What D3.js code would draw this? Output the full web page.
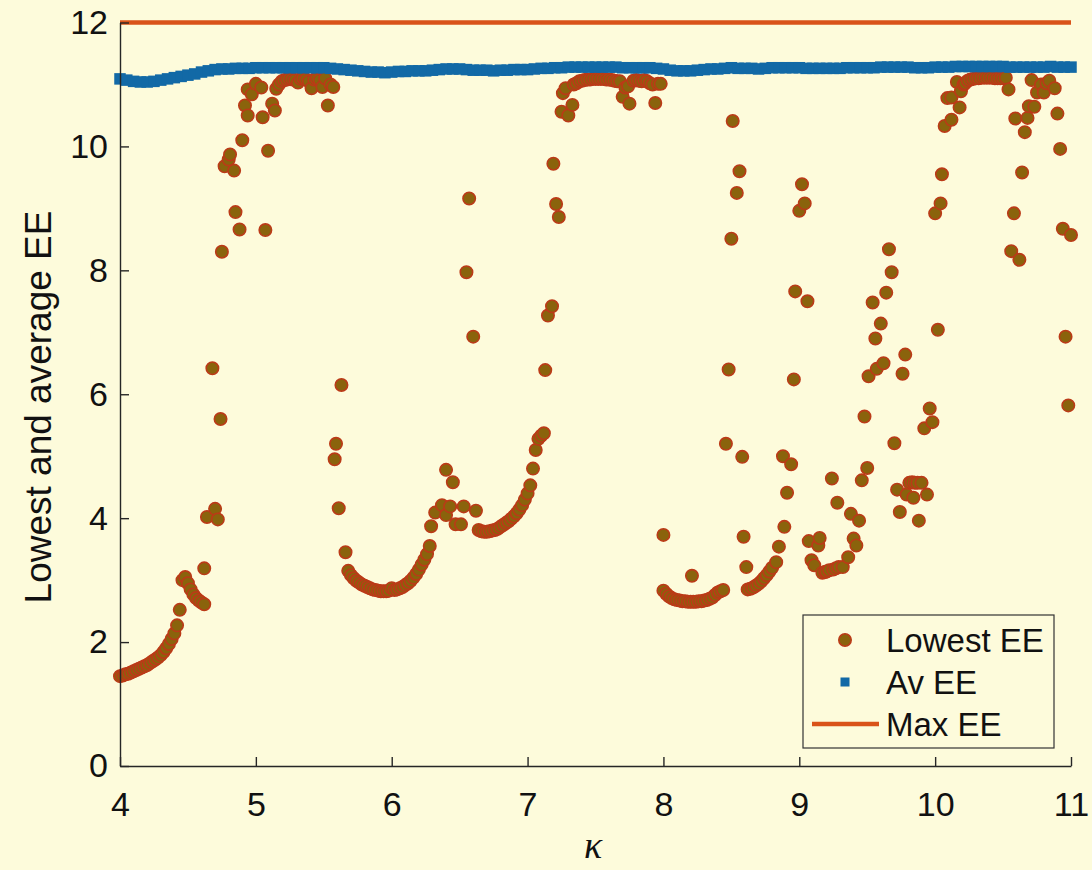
<!DOCTYPE html>
<html>
<head>
<meta charset="utf-8">
<script src="https://cdn.jsdelivr.net/npm/d3@7"></script>
<style>
  html, body { margin: 0; padding: 0; background: #fdfbdb; }
  svg { display: block; }
  text { font-family: "Liberation Sans", Arial, Helvetica, sans-serif; fill: #111; }
</style>
</head>
<body>
<svg id="chart" width="1092" height="870"></svg>
<script>
// ---- data ----
const xTicks = [4, 5, 6, 7, 8, 9, 10, 11];
const yTicks = [0, 2, 4, 6, 8, 10, 12];
const maxEE = 12;

// lowest EE, [kappa, value]
const lowestEE = [
  [4.00,1.45],[4.02,1.46],[4.04,1.48],[4.06,1.49],[4.08,1.51],[4.10,1.53],[4.12,1.55],[4.14,1.57],
  [4.16,1.59],[4.18,1.61],[4.20,1.63],[4.22,1.66],[4.24,1.69],[4.26,1.72],[4.28,1.75],[4.30,1.79],
  [4.32,1.84],[4.34,1.90],[4.36,1.97],[4.38,2.05],[4.40,2.14],[4.42,2.27],[4.44,2.52],[4.46,3.00],
  [4.48,3.05],[4.50,2.95],[4.52,2.85],[4.54,2.77],[4.56,2.71],[4.58,2.67],[4.60,2.64],[4.62,2.61],
  [4.62,3.19],[4.64,4.02],[4.68,6.42],[4.70,4.15],[4.72,3.98],[4.74,5.60],[4.75,8.30],[4.77,9.68],
  [4.80,9.79],[4.81,9.87],[4.84,9.61],[4.85,8.94],[4.88,8.66],[4.90,10.10],[4.92,10.66],[4.94,10.50],
  [4.94,10.92],[4.97,10.84],[5.00,11.01],[5.04,10.95],[5.05,10.47],[5.07,8.65],[5.09,9.93],[5.12,10.69],
  [5.14,10.58],[5.15,10.93],[5.17,11.00],[5.19,11.05],[5.21,11.07],[5.23,11.08],[5.25,11.09],[5.27,11.08],
  [5.29,11.07],[5.31,11.03],[5.33,11.09],[5.35,11.10],[5.37,11.08],[5.39,11.05],[5.41,10.94],[5.43,11.08],
  [5.45,11.09],[5.47,11.07],[5.49,10.96],[5.51,11.10],[5.53,10.66],[5.55,11.00],[5.57,10.96],
  [5.58,4.95],[5.59,5.20],[5.61,4.16],[5.63,6.15],[5.66,3.45],[5.68,3.15],[5.70,3.08],[5.72,3.03],
  [5.74,2.99],[5.76,2.96],[5.78,2.93],[5.80,2.91],[5.82,2.89],[5.84,2.87],[5.86,2.85],[5.88,2.84],
  [5.90,2.83],[5.92,2.82],[5.94,2.82],[5.96,2.82],[5.98,2.83],[6.00,2.87],[6.02,2.84],[6.04,2.85],
  [6.06,2.87],[6.08,2.89],[6.10,2.92],[6.12,2.95],[6.14,2.99],[6.16,3.04],[6.18,3.10],[6.20,3.17],
  [6.22,3.25],[6.24,3.33],[6.26,3.42],[6.28,3.55],[6.29,3.87],[6.32,4.09],[6.37,4.21],[6.40,4.78],
  [6.40,4.05],[6.43,4.19],[6.45,4.58],[6.47,3.90],[6.51,3.90],[6.53,4.19],[6.55,7.97],[6.57,9.16],
  [6.60,6.93],[6.62,4.12],[6.64,3.81],
  [6.66,3.79],[6.68,3.78],[6.70,3.78],[6.72,3.79],[6.74,3.80],[6.76,3.81],[6.78,3.83],[6.80,3.86],
  [6.82,3.89],[6.84,3.92],[6.86,3.95],[6.88,3.99],[6.90,4.03],[6.92,4.08],[6.94,4.14],[6.96,4.21],
  [6.98,4.30],[7.00,4.40],[7.02,4.53],[7.04,4.80],[7.06,5.10],[7.08,5.28],[7.10,5.33],[7.12,5.37],
  [7.13,6.39],[7.15,7.27],[7.18,7.42],[7.19,9.72],[7.21,9.07],[7.23,8.86],
  [7.25,10.56],[7.26,10.86],[7.28,10.94],[7.30,10.50],[7.33,10.67],[7.34,11.00],[7.36,11.02],[7.38,11.05],
  [7.40,11.06],[7.42,11.07],[7.44,11.08],[7.46,11.08],[7.48,11.09],[7.50,11.09],[7.52,11.09],[7.54,11.09],
  [7.56,11.09],[7.58,11.08],[7.60,11.08],[7.62,11.07],[7.64,11.06],[7.66,11.05],[7.68,11.05],[7.70,10.80],
  [7.72,10.95],[7.74,10.97],[7.75,10.69],[7.78,11.06],[7.80,11.07],[7.82,11.06],[7.84,11.05],[7.86,11.07],
  [7.88,11.05],[7.90,11.02],[7.92,11.00],[7.94,10.70],[7.96,11.01],[7.98,11.01],
  [8.00,3.73],[8.00,2.83],[8.02,2.78],[8.04,2.74],[8.06,2.71],[8.08,2.69],[8.10,2.68],[8.12,2.67],
  [8.14,2.66],[8.16,2.66],[8.18,2.65],[8.20,2.65],[8.21,3.07],[8.22,2.65],[8.24,2.65],[8.26,2.66],
  [8.28,2.66],[8.30,2.67],[8.32,2.68],[8.34,2.70],[8.36,2.72],[8.38,2.76],[8.40,2.80],[8.42,2.82],
  [8.44,2.84],
  [8.46,5.20],[8.48,6.40],[8.50,8.51],[8.51,10.41],[8.54,9.25],[8.56,9.60],[8.58,4.99],[8.59,3.70],
  [8.61,3.21],[8.62,2.85],[8.64,2.86],[8.66,2.88],[8.68,2.91],[8.70,2.94],[8.72,2.98],[8.74,3.03],
  [8.76,3.08],[8.78,3.14],[8.80,3.20],[8.83,3.29],[8.85,3.54],[8.88,5.00],[8.89,3.86],[8.91,4.41],
  [8.94,4.87],[8.96,6.24],[8.97,7.66],[9.00,8.96],[9.02,9.39],[9.04,9.08],[9.06,7.50],
  [9.07,3.63],[9.09,3.32],[9.11,3.24],[9.14,3.56],[9.15,3.68],[9.17,3.12],[9.19,3.13],[9.20,3.14],
  [9.22,3.16],[9.24,4.64],[9.25,3.17],[9.27,3.19],[9.28,4.25],[9.29,3.21],[9.32,3.21],[9.36,3.37],
  [9.38,4.07],[9.40,3.67],[9.42,3.56],[9.44,3.96],[9.46,4.61],[9.48,5.64],[9.50,4.81],
  [9.51,6.29],[9.54,7.48],[9.56,6.90],[9.57,6.41],[9.60,7.14],[9.62,6.50],[9.64,7.64],[9.66,8.34],
  [9.68,7.97],[9.70,5.21],[9.72,4.46],[9.74,4.10],[9.76,6.33],[9.78,6.64],[9.79,4.38],[9.81,4.57],
  [9.83,4.58],[9.84,4.33],[9.85,4.57],[9.87,4.57],[9.88,3.96],[9.90,4.57],[9.92,5.45],[9.94,4.38],
  [9.96,5.77],[9.98,5.55],[10.00,8.92],[10.02,7.04],[10.04,9.08],[10.05,9.55],[10.07,10.33],[10.09,10.78],
  [10.12,10.43],[10.12,10.79],[10.16,11.04],[10.18,10.63],[10.19,10.89],
  [10.21,11.00],[10.22,11.02],[10.24,11.06],[10.26,11.08],[10.28,11.09],[10.30,11.10],[10.32,11.10],[10.34,11.11],
  [10.36,11.11],[10.38,11.11],[10.40,11.11],[10.42,11.11],[10.44,11.10],[10.46,11.10],[10.48,11.10],[10.50,11.10],
  [10.52,11.11],[10.54,10.92],[10.56,8.31],[10.58,8.92],[10.59,10.45],[10.62,8.17],[10.64,9.58],[10.66,10.23],
  [10.68,10.46],[10.69,10.65],[10.71,11.07],[10.73,10.64],[10.75,10.87],[10.78,11.00],[10.80,10.87],[10.82,11.02],
  [10.84,11.06],[10.88,10.94],[10.90,10.53],[10.92,9.96],[10.94,8.67],[10.96,6.93],[10.98,5.82],[11.00,8.57]
];

// average EE, sampled every 0.05 in kappa from 4 to 11
const avStep = 0.05;
const avEE = [
  11.09,11.07,11.05,11.04,11.04,11.05,11.07,11.09,11.11,11.13,11.15,11.17,11.20,11.22,11.24,11.25,
  11.25,11.26,11.26,11.26,11.27,11.27,11.27,11.27,11.27,11.27,11.27,11.27,11.27,11.27,11.27,11.26,
  11.25,11.24,11.23,11.22,11.21,11.20,11.20,11.19,11.20,11.21,11.21,11.22,11.22,11.22,11.23,11.24,
  11.25,11.25,11.25,11.24,11.23,11.23,11.23,11.22,11.23,11.23,11.24,11.24,11.24,11.25,11.26,11.26,
  11.27,11.27,11.28,11.28,11.28,11.28,11.28,11.28,11.28,11.28,11.27,11.27,11.27,11.27,11.27,11.26,
  11.25,11.23,11.22,11.22,11.22,11.23,11.24,11.25,11.25,11.26,11.27,11.26,11.26,11.26,11.25,11.26,
  11.27,11.27,11.27,11.27,11.27,11.26,11.26,11.26,11.26,11.26,11.26,11.27,11.27,11.27,11.27,11.27,
  11.28,11.28,11.28,11.28,11.28,11.27,11.27,11.27,11.28,11.28,11.28,11.29,11.29,11.29,11.29,11.29,
  11.29,11.29,11.29,11.28,11.28,11.28,11.28,11.28,11.28,11.29,11.28,11.28,11.28
];
const avPts = avEE.map((v, i) => [4 + i * avStep, v]);

// ---- chart ----
const svg = d3.select("#chart");
const axisColor = "#262626";

const x = d3.scaleLinear().domain([4, 11]).range([120, 1071]);
const y = d3.scaleLinear().domain([0, 12]).range([766, 22.5]);

// lowest EE circles
svg.append("g")
  .selectAll("circle")
  .data(lowestEE)
  .enter().append("circle")
  .attr("cx", d => x(d[0]))
  .attr("cy", d => y(d[1]))
  .attr("r", 6.2)
  .attr("fill", "#8a630c")
  .attr("stroke", "#bb3a17")
  .attr("stroke-width", 1.6);

// average EE squares
const sq = 11.5;
svg.append("g")
  .selectAll("rect")
  .data(avPts)
  .enter().append("rect")
  .attr("x", d => x(d[0]) - sq / 2)
  .attr("y", d => y(d[1]) - sq / 2)
  .attr("width", sq)
  .attr("height", sq)
  .attr("fill", "#1269a6");

// max EE line
svg.append("line")
  .attr("x1", x(4)).attr("x2", x(11))
  .attr("y1", y(maxEE)).attr("y2", y(maxEE))
  .attr("stroke", "#d95319")
  .attr("stroke-width", 4.5);

// axes (ticks inward, no box)
const gx = svg.append("g")
  .attr("transform", `translate(0,${y(0)})`)
  .call(d3.axisBottom(x).tickValues(xTicks).tickFormat(d3.format("d")).tickSize(-9).tickSizeOuter(0));
gx.selectAll("text").attr("y", 50).attr("dy", null)
  .style("font-size", "34px");

const gy = svg.append("g")
  .attr("transform", `translate(${x(4)},0)`)
  .call(d3.axisLeft(y).tickValues(yTicks).tickFormat(d3.format("d")).tickSize(-9).tickSizeOuter(0).tickPadding(12));
gy.selectAll("text").style("font-size", "34px");

[gx, gy].forEach(g => {
  g.selectAll(".domain").attr("stroke", axisColor).attr("stroke-width", 1.4);
  g.selectAll(".tick line").attr("stroke", axisColor).attr("stroke-width", 1.4);
  g.selectAll("text").attr("fill", "#111").style("font-family", '"Liberation Sans", Arial, sans-serif');
});

// axis titles
svg.append("text")
  .attr("transform", "translate(51,407) rotate(-90)")
  .attr("text-anchor", "middle")
  .style("font-size", "37px")
  .text("Lowest and average EE");

svg.append("text")
  .attr("x", 593).attr("y", 858)
  .attr("text-anchor", "middle")
  .style("font-family", '"Liberation Serif", "DejaVu Serif", serif')
  .style("font-style", "italic")
  .style("font-size", "38px")
  .text("κ");

// legend
const lg = svg.append("g");
lg.append("rect")
  .attr("x", 803).attr("y", 615).attr("width", 251).attr("height", 133)
  .attr("fill", "#fdfbdb").attr("stroke", "#333").attr("stroke-width", 1.2);

lg.append("circle").attr("cx", 845).attr("cy", 640).attr("r", 6.2)
  .attr("fill", "#8a630c").attr("stroke", "#bb3a17").attr("stroke-width", 1.6);
lg.append("rect").attr("x", 845 - 4.5).attr("y", 682 - 4.5).attr("width", 9).attr("height", 9)
  .attr("fill", "#1269a6");
lg.append("line").attr("x1", 812).attr("x2", 879).attr("y1", 724).attr("y2", 724)
  .attr("stroke", "#d95319").attr("stroke-width", 4.5);

const legendLabels = ["Lowest EE", "Av EE", "Max EE"];
lg.selectAll("text.lab")
  .data(legendLabels)
  .enter().append("text")
  .attr("class", "lab")
  .attr("x", 886)
  .attr("y", (d, i) => 652 + i * 42)
  .style("font-size", "33px")
  .text(d => d);
</script>
</body>
</html>
